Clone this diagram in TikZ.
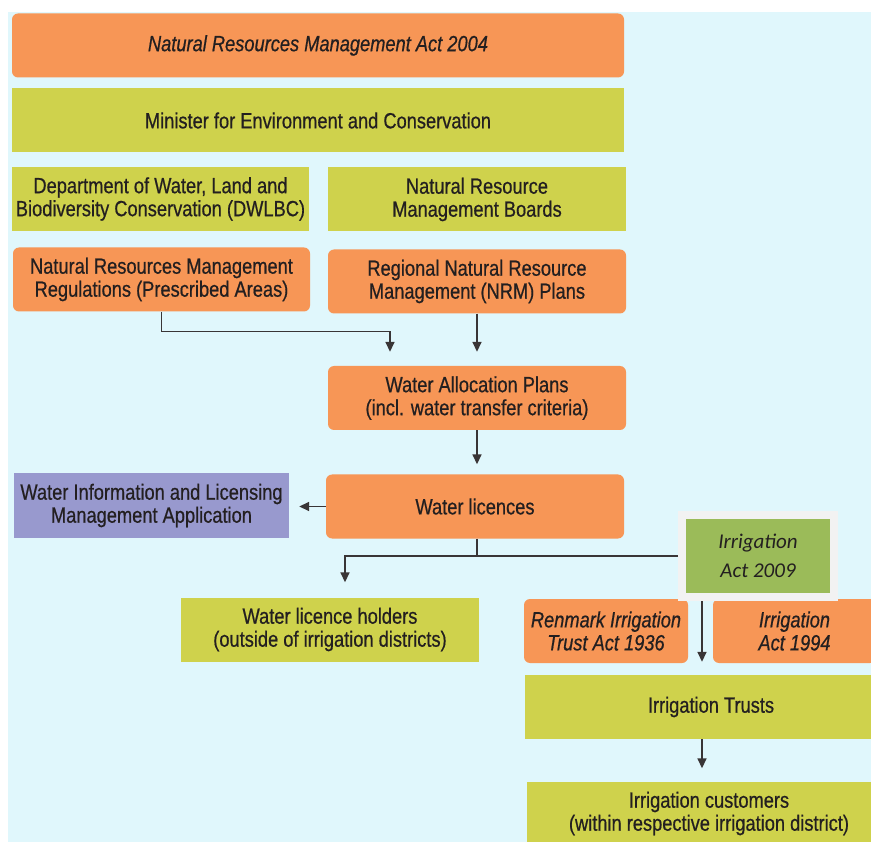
\documentclass[tikz,border=0pt]{standalone}
\usepackage{fontspec}
\setmainfont[FakeStretch=0.83,FakeBold=0.6]{Liberation Sans}
\newfontfamily\calfont{Carlito}
\usetikzlibrary{arrows.meta}
\definecolor{sky}{HTML}{E0F7FC}
\definecolor{peach}{HTML}{F79656}
\definecolor{moss}{HTML}{CFD24C}
\definecolor{lilac}{HTML}{9899CE}
\definecolor{leaf}{HTML}{9BBB59}
\definecolor{ink}{HTML}{231F20}

\begin{document}
\begin{tikzpicture}[x=1pt,y=-1pt,
    every node/.style={text=ink,align=center,inner sep=0pt,
      font=\fontsize{22}{23}\selectfont},
    box/.style 2 args={minimum width=#1,minimum height=#2},
    ob/.style={fill=peach,rounded corners=6pt},
    yb/.style={fill=moss},
    arr/.style={draw=ink!90,line width=1.6pt,-{Triangle[length=10pt,width=9pt]}}]
  \useasboundingbox (0,0) rectangle (871,842);
  \clip (0,0) rectangle (871,842);
  % page & panel
  \fill[white] (0,0) rectangle (871,842);
  \fill[sky] (8,12) rectangle (871,842);
  % acts and plans (orange)
  \foreach \nm/\x/\y/\w/\txt in {act04/318/45.5/612/{\itshape Natural Resources Management Act 2004},
      regs/161.5/279.5/297/{Natural Resources Management\\Regulations (Prescribed Areas)},
      plans/477/281.5/298/{Regional Natural Resource\\Management (NRM) Plans},
      wap/477/398/298/{Water Allocation Plans\\(incl. water transfer criteria)},
      lic/475/506.5/298/{Water licences},
      renmark/606/631/164/{\itshape Renmark Irrigation\\\itshape Trust Act 1936},
      act94/794.5/631/163/{\itshape Irrigation\\\itshape Act 1994}}{
    \node[ob,box={\w}{64}] (\nm) at (\x,\y) {\txt};}
  % bodies and holders (yellow-green)
  \foreach \nm/\x/\y/\w/\txt in {minister/318/120.5/612/{Minister for Environment and Conservation},
      dwlbc/160.5/199/297/{Department of Water, Land and\\Biodiversity Conservation (DWLBC)},
      boards/477/199.5/298/{Natural Resource\\Management Boards},
      holders/330/629.5/298/{Water licence holders\\(outside of irrigation districts)},
      trusts/711/707/372/{Irrigation Trusts},
      customers/709/813.5/364/{Irrigation customers\\(within respective irrigation district)}}{
    \node[yb,box={\w}{64}] (\nm) at (\x,\y) {\txt};}
  \node[fill=lilac,box={275}{64}] (wilma) at (151.5,505.5)
      {Water Information and Licensing\\Management Application};
  \node[fill=leaf,draw=gray!10,line width=8pt,box={152}{82},
      font=\calfont\itshape\fontsize{21}{29}\selectfont] (act09) at (758,556)
      {Irrigation\\Act 2009};
  % connectors
  \draw[arr,shorten >=14pt] (regs.south) -- ++(0,20) -| ([xshift=-87pt]wap.north);
  \draw[arr,shorten >=14pt] (plans.south) -- (wap.north);
  \draw[arr,shorten >=10pt] (wap.south) -- (wap.south |- lic.north);
  \draw[arr,shorten >=10pt] (lic.west) -- (lic.west -| wilma.east);
  \draw[draw=ink!90,line width=1.6pt] ([xshift=2pt]lic.south) -- ([xshift=2pt]lic.south |- act09.west);
  \draw[arr,shorten >=15pt] (act09.west) -- ([xshift=15pt]holders.north |- act09.west)
      -- ([xshift=15pt]holders.north);
  \draw[arr,shorten >=13pt] ([xshift=-56pt]act09.south) -- ([xshift=-56pt]act09.south |- trusts.north);
  \draw[arr,shorten >=13pt] ([xshift=-9pt]trusts.south) -- ([xshift=-9pt]trusts.south |- customers.north);
\end{tikzpicture}
\end{document}
